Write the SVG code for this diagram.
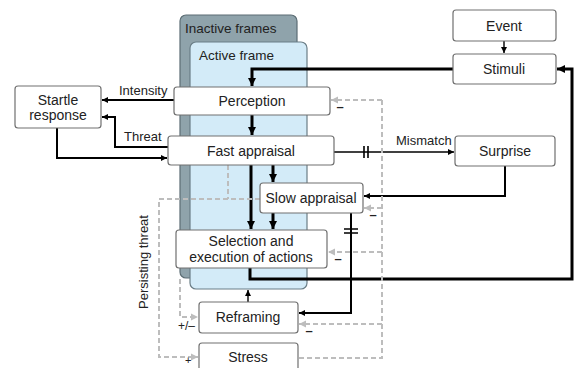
<svg xmlns="http://www.w3.org/2000/svg" width="574" height="368" viewBox="0 0 574 368">
<style>
text{font-family:"Liberation Sans",Arial,sans-serif;fill:#222;}
.t{font-size:14px;text-anchor:middle;}
.l{font-size:13px;}
.m{font-size:13px;font-weight:bold;text-anchor:middle;}
.box{fill:#fff;stroke:#707070;stroke-width:1.2;}
.k{fill:none;stroke:#000;}
.w3{stroke-width:3;}
.w2{stroke-width:2;}
.w1{stroke-width:1.4;}
.d{fill:none;stroke:#bdbdbd;stroke-width:2;stroke-dasharray:5 3;}
</style>
<defs>
<marker id="a" markerUnits="userSpaceOnUse" markerWidth="9" markerHeight="9" refX="8" refY="4.5" orient="auto"><path d="M0,0.5 L8,4.5 L0,8.5 z" fill="#000"/></marker>
<marker id="s" markerUnits="userSpaceOnUse" markerWidth="7" markerHeight="7" refX="6" refY="3.5" orient="auto"><path d="M0,0.5 L6,3.5 L0,6.5 z" fill="#000"/></marker>
<marker id="g" markerUnits="userSpaceOnUse" markerWidth="8" markerHeight="8" refX="7" refY="4" orient="auto"><path d="M0,0.5 L7,4 L0,7.5 z" fill="#bdbdbd"/></marker>
</defs>

<g id="inactive-frames">
<rect x="180" y="15" width="117" height="263" rx="6" fill="#8fa3ab" stroke="#5c6d74" stroke-width="1.2"/>
<text class="l" x="185" y="33" style="font-size:13.5px">Inactive frames</text>
</g>
<g id="active-frame">
<rect x="190" y="42" width="117" height="247" rx="6" fill="#d3ebf8" stroke="#6b7e87" stroke-width="1.2"/>
<text class="l" x="199" y="60" style="font-size:13.5px">Active frame</text>
</g>

<g id="connectors">
<path class="k w1" d="M504,41 V53" marker-end="url(#s)"/>
<path class="k w3" d="M453,69 H252 V86" marker-end="url(#a)"/>
<path class="k w3" d="M252,115 V135" marker-end="url(#a)"/>
<path class="k w3" d="M273,165 V182" marker-end="url(#a)"/>
<path class="k w3" d="M251,165 V229" marker-end="url(#a)"/>
<path class="k w3" d="M273,213 V229" marker-end="url(#a)"/>
<path class="k w3" d="M250,268 V279 H572 V69 H557" marker-end="url(#a)"/>
<path class="k w2" d="M174,100 H102" marker-end="url(#s)"/>
<path class="k w2" d="M168,147 H115 V117 H102" marker-end="url(#s)"/>
<path class="k w2" d="M57,128 V158 H167" marker-end="url(#s)"/>
<path class="k w1" d="M334,152 H454" marker-end="url(#s)"/>
<path class="k" stroke-width="1.6" d="M364,146 V158 M368,146 V158"/>
<path class="k w2" d="M505,166 V196 H364" marker-end="url(#s)"/>
<path class="k w2" d="M351,213 V313 H299" marker-end="url(#s)"/>
<path class="k" stroke-width="1.6" d="M344,229 H358 M344,233 H358"/>
<path class="k w1" d="M248,302 V290" marker-end="url(#s)"/>
<path class="d" d="M382,100 H331" marker-end="url(#g)"/>
<path class="d" d="M299,358 H382 V100"/>
<path class="d" d="M382,208 H364" marker-end="url(#g)"/>
<path class="d" d="M382,252 H328" marker-end="url(#g)"/>
<path class="d" d="M382,324 H299" marker-end="url(#g)"/>
<path class="d" d="M228,165 V199"/>
<path class="d" d="M260,199 H159 V357 H198" marker-end="url(#g)"/>
<path class="d" d="M180,279 V317 H198" marker-end="url(#g)"/>
<text class="l" x="119" y="95">Intensity</text>
<text class="l" x="124" y="141">Threat</text>
<text class="l" x="396" y="145">Mismatch</text>
<text class="l" x="148" y="262" text-anchor="middle" transform="rotate(-90 148 262)">Persisting threat</text>
<text class="l" x="178" y="330" style="font-size:12px">+/–</text>
<text class="l" x="185" y="364" style="font-size:11px">+</text>
<text class="m" x="340" y="111">–</text>
<text class="m" x="373" y="219">–</text>
<text class="m" x="338" y="263">–</text>
<text class="m" x="309" y="335">–</text>
</g>

<g id="startle"><rect class="box" x="15" y="86" width="86" height="42" rx="3"/><text class="t" x="58" y="105">Startle</text><text class="t" x="58" y="120">response</text></g>
<g id="perception"><rect class="box" x="174" y="87" width="156" height="28" rx="3"/><text class="t" x="252" y="106">Perception</text></g>
<g id="fast-appraisal"><rect class="box" x="168" y="136" width="166" height="29" rx="3"/><text class="t" x="251" y="156">Fast appraisal</text></g>
<g id="slow-appraisal"><rect class="box" x="260" y="183" width="103" height="30" rx="3"/><text class="t" x="311" y="203">Slow appraisal</text></g>
<g id="selection"><rect class="box" x="176" y="230" width="151" height="38" rx="3"/><text class="t" x="251" y="246">Selection and</text><text class="t" x="251" y="262">execution of actions</text></g>
<g id="reframing"><rect class="box" x="199" y="302" width="99" height="31" rx="3"/><text class="t" x="248" y="322">Reframing</text></g>
<g id="stress"><rect class="box" x="199" y="343" width="99" height="32" rx="3"/><text class="t" x="248" y="362">Stress</text></g>
<g id="event"><rect class="box" x="453" y="10" width="103" height="31" rx="3"/><text class="t" x="504" y="31">Event</text></g>
<g id="stimuli"><rect class="box" x="453" y="54" width="103" height="30" rx="3"/><text class="t" x="504" y="74">Stimuli</text></g>
<g id="surprise"><rect class="box" x="455" y="136" width="100" height="30" rx="3"/><text class="t" x="505" y="156">Surprise</text></g>
</svg>
